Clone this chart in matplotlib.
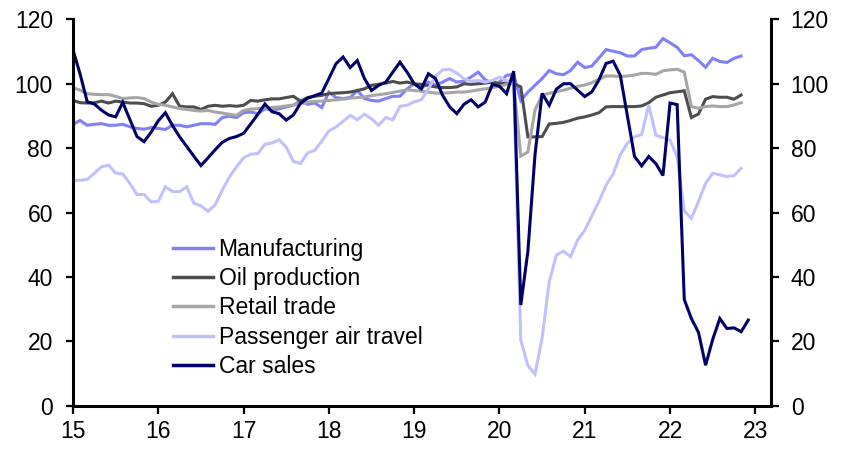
import numpy as np
import matplotlib
matplotlib.use('Agg')
import matplotlib.pyplot as plt

plt.rcParams['font.family'] = ['Liberation Sans', 'DejaVu Sans']

# Monthly index values, Jan 2015 onwards
manufacturing = [
    87.4, 88.6, 87.1, 87.4, 87.6, 87.1, 87.1, 87.4, 86.6, 86.1, 85.9, 86.4,
    86.1, 85.8, 87.1, 87.1, 86.6, 87.1, 87.6, 87.6, 87.4, 89.5, 89.9, 89.5,
    91.0, 91.2, 90.7, 92.2, 91.9, 92.2, 92.8, 93.3, 94.8, 93.6, 94.0, 92.6,
    97.4, 95.7, 95.4, 95.7, 97.9, 95.4, 94.8, 94.6, 95.4, 96.1, 96.1, 98.4,
    100.0, 98.4, 100.5, 99.5, 100.5, 101.6, 100.5, 100.8, 102.1, 103.6, 101.2, 100.2,
    100.5, 102.6, 102.9, 94.8, 97.4, 99.5, 101.6, 104.1, 103.1, 102.8, 104.1, 106.7,
    105.0, 105.5, 108.0, 110.6, 110.1, 109.6, 108.6, 108.6, 110.6, 111.0, 111.3, 114.0,
    112.7, 111.3, 108.7, 109.0, 107.2, 105.1, 107.9, 106.9, 106.6, 107.9, 108.6,
]
oil_production = [
    94.8, 94.1, 94.0, 94.1, 94.6, 94.0, 94.6, 94.3, 94.0, 94.0, 93.8, 93.0,
    93.3, 94.3, 96.9, 93.0, 92.8, 92.8, 92.0, 93.0, 93.3, 93.0, 93.2, 93.0,
    93.3, 94.8, 94.6, 95.0, 95.3, 95.3, 95.7, 96.1, 94.6, 95.7, 96.1, 96.4,
    96.9, 97.1, 97.2, 97.4, 97.9, 98.4, 99.5, 99.8, 100.2, 100.7, 100.2, 100.5,
    100.0, 99.8, 99.4, 99.0, 98.8, 98.8, 99.0, 100.0, 99.8, 100.0, 100.2, 100.5,
    100.0, 100.2, 100.0, 99.0, 83.5, 83.5, 83.6, 87.5, 87.7, 88.0, 88.6, 89.3,
    89.7, 90.3, 91.0, 92.8, 92.9, 92.9, 92.9, 92.9, 93.1, 94.1, 95.8, 96.5,
    97.2, 97.5, 97.8, 89.5, 90.6, 95.2, 96.0, 95.8, 95.8, 95.2, 96.5,
]
retail_trade = [
    98.8, 98.0, 96.9, 96.7, 96.6, 96.6, 96.1, 95.4, 95.6, 95.7, 95.4, 94.3,
    93.6, 93.3, 92.8, 92.3, 92.0, 91.7, 91.5, 91.7, 91.2, 90.9, 90.5, 90.2,
    91.7, 92.1, 92.3, 92.5, 92.6, 92.8, 93.1, 93.4, 93.8, 94.3, 94.5, 94.6,
    94.8, 95.0, 95.2, 95.5, 95.7, 95.9, 96.3, 96.6, 96.9, 97.3, 97.7, 98.1,
    97.9, 97.7, 97.4, 97.1, 97.1, 97.2, 97.4, 97.4, 97.7, 98.1, 98.4, 98.8,
    99.2, 99.8, 100.2, 77.5, 78.8, 91.8, 96.5, 97.0, 97.5, 98.0, 98.6, 99.2,
    99.6, 100.3, 101.4, 102.4, 102.4, 102.2, 102.4, 102.7, 103.2, 103.2, 102.9, 104.0,
    104.3, 104.5, 103.6, 92.9, 92.4, 92.9, 93.1, 92.9, 92.9, 93.4, 94.1,
]
air_travel = [
    70.0, 70.0, 70.3, 72.2, 74.2, 74.7, 72.2, 72.0, 69.0, 65.6, 65.6, 63.3,
    63.5, 68.0, 66.5, 66.5, 68.0, 62.9, 62.1, 60.4, 62.4, 67.0, 71.0, 74.2,
    77.0, 78.1, 78.3, 81.2, 81.6, 82.6, 80.3, 75.9, 75.2, 78.5, 79.3, 82.2,
    85.3, 86.6, 88.3, 90.2, 88.8, 90.5, 89.1, 87.1, 89.5, 88.8, 93.0, 93.3,
    94.4, 95.0, 98.4, 102.3, 104.3, 104.5, 103.3, 101.6, 100.8, 101.0, 100.5, 101.0,
    102.1, 101.0, 100.0, 20.4, 12.5, 9.8, 21.0, 38.5, 46.8, 48.0, 46.3, 51.5,
    54.5, 59.0, 63.5, 68.5, 72.0, 78.0, 81.5, 83.5, 84.2, 93.4, 84.0, 83.3,
    82.5, 77.3, 60.5, 58.2, 63.4, 69.1, 72.2, 71.7, 71.2, 71.5, 73.7,
]
car_sales = [
    110.5, 103.0, 94.4, 93.7, 91.8, 90.3, 89.7, 94.2, 88.9, 83.6, 82.0, 85.0,
    88.5, 91.0, 87.0, 83.5, 80.5, 77.5, 74.6, 77.0, 79.5, 81.8, 83.0, 83.6,
    84.6, 87.5, 90.5, 93.7, 91.3, 90.7, 88.7, 90.3, 93.9, 95.5, 96.3, 97.1,
    101.6, 106.2, 108.3, 105.0, 107.2, 101.6, 97.9, 99.5, 100.5, 103.6, 106.7, 103.6,
    100.0, 98.4, 103.1, 101.6, 96.4, 92.8, 90.7, 93.6, 95.0, 92.8, 94.3, 99.8,
    99.2, 96.9, 103.9, 31.3, 48.0, 78.0, 97.0, 93.3, 98.3, 100.0, 100.0, 98.0,
    96.0, 97.5, 101.2, 106.3, 107.0, 102.6, 90.0, 77.4, 74.5, 77.4, 75.2, 71.5,
    94.0, 93.5, 33.0, 27.1, 22.8, 12.6, 20.6, 27.1, 24.0, 24.2, 23.0, 26.6,
]

series = [
    ('Manufacturing', manufacturing, '#8080f8'),
    ('Oil production', oil_production, '#4d4d4d'),
    ('Retail trade', retail_trade, '#a6a6a6'),
    ('Passenger air travel', air_travel, '#c0c0ff'),
    ('Car sales', car_sales, '#000066'),
]

fig = plt.figure(figsize=(8.44, 4.49), dpi=100)
ax = fig.add_axes([73 / 844, 1 - 405.8 / 449, (770.7 - 73) / 844, (405.8 - 19.3) / 449])

for label, vals, color in series:
    x = 15 + np.arange(len(vals)) / 12
    ax.plot(x, vals, color=color, lw=2.2, label=label, solid_joinstyle='miter')

ax.set_xlim(15, 23.18)
ax.set_ylim(0, 120)
ax.set_xticks(range(15, 24))
ax.set_yticks(range(0, 121, 20))

ax.spines['top'].set_visible(False)
for s in ['left', 'right', 'bottom']:
    ax.spines[s].set_linewidth(2.2)

ax.yaxis.set_ticks_position('both')
ax.tick_params(axis='y', direction='out', length=5.4, width=1.6, labelsize=16.5,
               pad=9, labelleft=True, labelright=True)
ax.tick_params(axis='x', direction='out', length=5.4, width=1.6, labelsize=16.5, pad=5)

leg = ax.legend(loc='center left', bbox_to_anchor=(172.7 / 844, 1 - 308 / 449),
                bbox_transform=fig.transFigure, frameon=False, fontsize=16.5,
                borderpad=0, borderaxespad=0, handlelength=1.75, handletextpad=0.25,
                labelspacing=0.28)
for line in leg.get_lines():
    line.set_linewidth(2.5)

fig.savefig('out.png', dpi=100)
